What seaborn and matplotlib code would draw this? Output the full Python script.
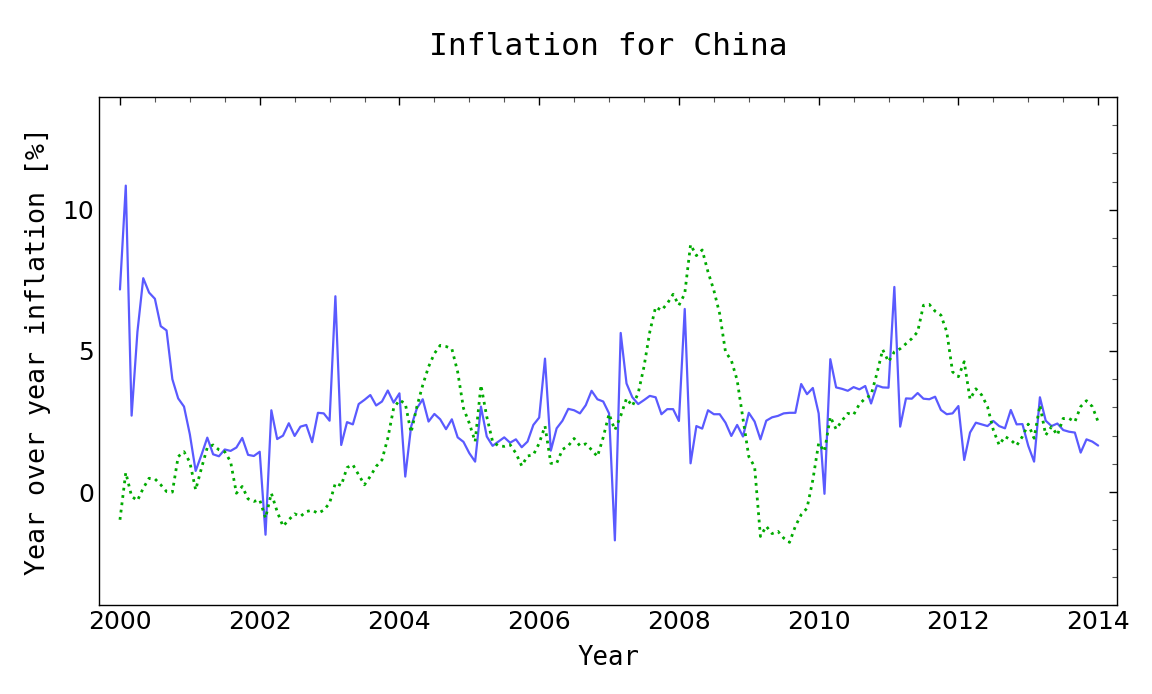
import numpy as np
import pandas as pd
import matplotlib
matplotlib.use("Agg")
import matplotlib.pyplot as plt
from matplotlib.ticker import MultipleLocator
import seaborn as sns

# ── Data (monthly, Jan 2000 .. Jan 2014) ──────────────────────
start_year = 2000
blue_vals = [
    7.18, 10.86, 2.71, 5.68, 7.58, 7.07, 6.85, 5.88, 5.73, 4.00, 3.32, 3.03,
    2.05, 0.75, 1.32, 1.93, 1.34, 1.27, 1.51, 1.46, 1.58, 1.92, 1.32, 1.28,
    1.43, -1.51, 2.90, 1.88, 2.00, 2.44, 1.99, 2.32, 2.38, 1.77, 2.81, 2.79,
    2.53, 6.94, 1.67, 2.48, 2.40, 3.12, 3.27, 3.44, 3.07, 3.21, 3.60, 3.17,
    3.50, 0.55, 2.32, 2.97, 3.29, 2.50, 2.77, 2.58, 2.23, 2.58, 1.94, 1.78,
    1.38, 1.08, 3.03, 1.97, 1.64, 1.79, 1.94, 1.75, 1.87, 1.59, 1.79, 2.38,
    2.64, 4.73, 1.47, 2.26, 2.53, 2.95, 2.90, 2.79, 3.08, 3.59, 3.29, 3.21,
    2.79, -1.71, 5.64, 3.85, 3.36, 3.12, 3.26, 3.41, 3.36, 2.76, 2.94, 2.94,
    2.52, 6.49, 1.02, 2.34, 2.25, 2.90, 2.76, 2.76, 2.46, 1.99, 2.38, 1.97,
    2.81, 2.50, 1.87, 2.53, 2.65, 2.70, 2.79, 2.81, 2.81, 3.83, 3.47, 3.69,
    2.79, -0.06, 4.71, 3.71, 3.66, 3.59, 3.72, 3.64, 3.76, 3.14, 3.78, 3.71,
    3.70, 7.27, 2.32, 3.32, 3.31, 3.51, 3.31, 3.29, 3.38, 2.91, 2.76, 2.79,
    3.05, 1.14, 2.11, 2.46, 2.40, 2.34, 2.52, 2.34, 2.26, 2.91, 2.40, 2.41,
    1.64, 1.08, 3.36, 2.53, 2.34, 2.43, 2.20, 2.14, 2.11, 1.40, 1.87, 1.79,
    1.65,
]
green_vals = [
    -0.98, 0.69, -0.15, -0.30, 0.14, 0.49, 0.47, 0.26, 0.02, 0.00, 1.26, 1.43,
    1.06, 0.08, 0.85, 1.58, 1.67, 1.50, 1.43, 1.08, -0.04, 0.20, -0.24, -0.33,
    -0.27, -0.92, -0.04, -0.69, -1.21, -0.98, -0.77, -0.86, -0.69, -0.64, -0.75, -0.64,
    -0.39, 0.32, 0.23, 0.87, 0.97, 0.61, 0.26, 0.56, 0.91, 1.14, 1.91, 2.97,
    3.26, 3.14, 2.11, 3.03, 3.79, 4.44, 4.91, 5.20, 5.16, 5.08, 4.26, 2.97,
    2.44, 1.79, 3.79, 2.67, 1.79, 1.64, 1.62, 1.68, 1.38, 0.93, 1.28, 1.32,
    1.73, 2.34, 1.02, 1.02, 1.51, 1.64, 1.90, 1.64, 1.71, 1.50, 1.26, 1.94,
    2.77, 2.20, 2.70, 3.32, 3.05, 3.50, 4.44, 5.68, 6.56, 6.44, 6.68, 7.01,
    6.62, 7.03, 8.77, 8.38, 8.58, 7.80, 7.15, 6.32, 4.97, 4.67, 3.97, 2.60,
    1.26, 0.90, -1.57, -1.21, -1.47, -1.39, -1.63, -1.78, -1.21, -0.80, -0.57, 0.43,
    1.73, 1.44, 2.67, 2.23, 2.53, 2.79, 2.74, 3.12, 3.32, 3.44, 4.20, 5.05,
    4.62, 4.97, 5.08, 5.26, 5.44, 5.68, 6.62, 6.65, 6.41, 6.27, 5.68, 4.26,
    4.09, 4.62, 3.29, 3.66, 3.44, 3.03, 2.20, 1.67, 1.97, 1.85, 1.65, 1.97,
    2.41, 1.91, 3.08, 2.02, 2.32, 2.02, 2.61, 2.61, 2.49, 3.03, 3.24, 3.03,
    2.49,
]
years = start_year + np.arange(len(blue_vals)) / 12.0

df = pd.DataFrame({"Year": years, "blue": blue_vals, "green": green_vals})

# ── Style ─────────────────────────────────────────────────────
BLUE = "#5a5aff"
GREEN = "#00aa00"
MONO = "DejaVu Sans Mono"

sns.set_style("white")
plt.rcParams.update({
    "font.family": "DejaVu Sans",
    "text.color": "black",
    "axes.labelcolor": "black",
    "xtick.color": "black",
    "ytick.color": "black",
})

fig = plt.figure(figsize=(11.52, 6.94), dpi=100)
ax = fig.add_axes([99 / 1152, 1 - 605 / 694, (1117 - 99) / 1152, (605 - 97) / 694])

sns.lineplot(data=df, x="Year", y="blue", ax=ax, color=BLUE, linewidth=1.6)
sns.lineplot(data=df, x="Year", y="green", ax=ax, color=GREEN, linewidth=2.0,
             linestyle=":")

ax.set_xlim(1999.70, 2014.27)
ax.set_ylim(-4, 14)
ax.xaxis.set_major_locator(MultipleLocator(2))
ax.xaxis.set_minor_locator(MultipleLocator(0.5))
ax.yaxis.set_major_locator(MultipleLocator(5))
ax.yaxis.set_minor_locator(MultipleLocator(1))
ax.tick_params(which="both", direction="in", top=True, right=True,
               labelcolor="black", labelsize=18)
ax.tick_params(which="major", length=6, width=1, color="black")
ax.tick_params(which="minor", length=3.5, width=0.8, color="#555555")
for s in ax.spines.values():
    s.set_color("black")
    s.set_linewidth(1.0)

ax.set_xlabel("Year", family=MONO, fontsize=18.5, labelpad=8, color="black")
ax.set_ylabel("Year over year inflation [%]", family=MONO, fontsize=19.2,
              labelpad=8, color="black")
ax.set_title("Inflation for China", family=MONO, fontsize=22.5, pad=30,
             color="black")

fig.savefig("out.png", dpi=100)
